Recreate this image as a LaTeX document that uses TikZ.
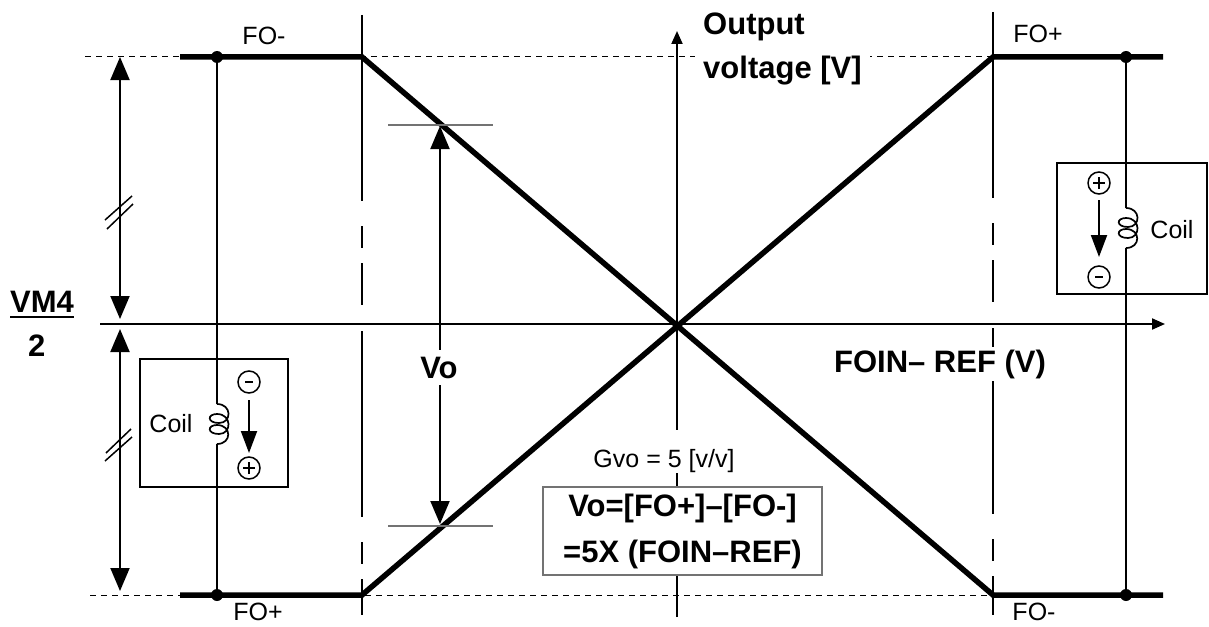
\documentclass[tikz,border=0pt]{standalone}
\usepackage{fontspec}
\setmainfont{Liberation Sans}
\usetikzlibrary{arrows.meta}
% looped coil symbol: wire x = #1, top y = #2, 40pt long, bulges to the right
\newcommand\coilsym[2]{%
  \begin{scope}[shift={(#1,#2)}]
  \draw[line width=1.7pt] (0,0)
    .. controls (15,0) and (15,19) .. (2,19)
    .. controls (-10,19) and (-10,10) .. (0,10)
    .. controls (15,10) and (15,30) .. (2,30)
    .. controls (-10,30) and (-10,21) .. (0,21)
    .. controls (15,21) and (15,40) .. (0,40);
  \end{scope}}
\begin{document}
\begin{tikzpicture}[x=1pt,y=-1pt,
  lvl/.style={line width=1pt, dash pattern=on 6pt off 5pt},
  vdash/.style={line width=1.6pt, dash pattern=on 186pt off 25pt on 22pt off 15pt on 42pt off 26pt},
  axis/.style={line width=2pt, -{Triangle[length=13pt,width=11pt]}},
  thick/.style={line width=5.5pt},
  wire/.style={line width=2pt},
  dim/.style={line width=2pt, {Triangle[length=23pt,width=19pt]}-{Triangle[length=23pt,width=19pt]}},
  brk/.style={line width=1.5pt},
  tick/.style={line width=1.3pt, draw=black!55},
  sgn/.style={circle, draw, line width=1.5pt, minimum size=22pt, inner sep=0pt},
  cbox/.style={draw, line width=2pt},
  reg/.style={font=\fontsize{25}{30}\selectfont, inner sep=0pt},
  bld/.style={font=\fontsize{31}{46}\selectfont\bfseries},
  cur/.style={line width=2pt, -{Triangle[length=22pt,width=16pt]}}]
\useasboundingbox (0,0) rectangle (1209,626);
% key points
\coordinate (TL) at (362,57);
\coordinate (BL) at (362,595);
\coordinate (TR) at (993,57);
\coordinate (BR) at (993,595);
\coordinate (O) at (677,324);
% dashed levels
\draw[lvl] (85,57) -- (1000,57);
\draw[lvl] (90,595) -- (1000,595);
% dashed verticals
\draw[vdash] (362,15) -- (362,615);
\draw[vdash] (993,12) -- (993,615);
% axes
\draw[axis] (100,324) -- (1165,324);
\draw[axis] (677,617) -- (677,31);
% transfer curves
\draw[thick] (180,57) -- (TL) -- (BR) -- (1163,595);
\draw[thick] (180,595) -- (BL) -- (TR) -- (1163,57);
% left wire with coil
\coordinate (LW1) at (217,57);
\coordinate (LW2) at (217,595);
\fill (LW1) circle (6pt);
\fill (LW2) circle (6pt);
\draw[wire] (LW1) -- (217,404);
\draw[wire] (217,444) -- (LW2);
\coilsym{217}{404}
\draw[cbox] (140,359) rectangle (288,487);
\node[reg, anchor=base] (coilL) at (171,432) {Coil};
\node[sgn] (cm1) at (249,382) {};
\draw[line width=1.5pt] ([xshift=-4pt]cm1.center) -- ([xshift=4pt]cm1.center);
\node[sgn] (cp1) at (249,468) {};
\draw[line width=1.5pt] ([xshift=-6pt]cp1.center) -- ([xshift=6pt]cp1.center)
  ([yshift=-6pt]cp1.center) -- ([yshift=6pt]cp1.center);
\draw[cur] (249,400) -- (249,453);
% right wire with coil
\coordinate (RW1) at (1126,57);
\coordinate (RW2) at (1126,595);
\fill (RW1) circle (6pt);
\fill (RW2) circle (6pt);
\draw[wire] (RW1) -- (1126,208);
\draw[wire] (1126,248) -- (RW2);
\coilsym{1126}{208}
\draw[cbox] (1057,163) rectangle (1207,294);
\node[reg, anchor=base] (coilR) at (1172,238) {Coil};
\node[sgn] (cp2) at (1099,183) {};
\draw[line width=1.5pt] ([xshift=-6pt]cp2.center) -- ([xshift=6pt]cp2.center)
  ([yshift=-6pt]cp2.center) -- ([yshift=6pt]cp2.center);
\node[sgn] (cm2) at (1099,277) {};
\draw[line width=1.5pt] ([xshift=-4pt]cm2.center) -- ([xshift=4pt]cm2.center);
\draw[cur] (1099,200) -- (1099,257);
% left dimension arrows
\draw[dim] (120,57) -- (120,319);
\draw[dim] (120,329) -- (120,591);
\draw[brk] (105,220) -- (132,196) (107,229) -- (133,204);
\draw[brk] (105,461) -- (132,437) (106,453) -- (131,429);
% Vo dimension
\draw[tick] (388,125) -- (493,125);
\draw[tick] (388,526) -- (493,526);
\draw[dim] (440,126) -- (440,524);
% labels
\node[bld, fill=white, inner sep=7pt, anchor=base] (vo) at (439,378) {Vo};
\node[reg, fill=white, inner xsep=3pt, inner ysep=0pt, text height=37pt, text depth=6pt, anchor=base] (gvo) at (664,467) {Gvo = 5 [v/v]};
\node[bld, draw=black!55, line width=1.5pt, fill=white, minimum width=279pt, minimum height=88pt, align=center, inner sep=0pt] (eq) at (682.5,531)
  {Vo=[FO+]--[FO-]\\=5X (FOIN--REF)};
\node[bld, fill=white, inner xsep=6pt, inner ysep=3pt, anchor=base] (xl) at (940,372) {FOIN-- REF (V)};
\node[bld, inner sep=0pt, anchor=base west] (yl1) at (703,35) {Output};
\node[bld, fill=white, inner xsep=8pt, inner ysep=2pt, anchor=base west] (yl2) at (695,78) {voltage [V]};
\node[reg, anchor=base] (fo1) at (264,45) {FO-};
\node[reg, anchor=base] (fo2) at (1038,42) {FO+};
\node[reg, anchor=base] (fo3) at (258,620) {FO+};
\node[reg, anchor=base] (fo4) at (1034,620) {FO-};
\node[bld, inner sep=0pt, anchor=base west] (vm) at (10,312) {VM4};
\draw[line width=2pt] ([yshift=-5pt]vm.base west) -- ([yshift=-5pt]vm.base east);
\node[bld, inner sep=0pt, anchor=base west] (two) at (28,356) {2};
\end{tikzpicture}
\end{document}
